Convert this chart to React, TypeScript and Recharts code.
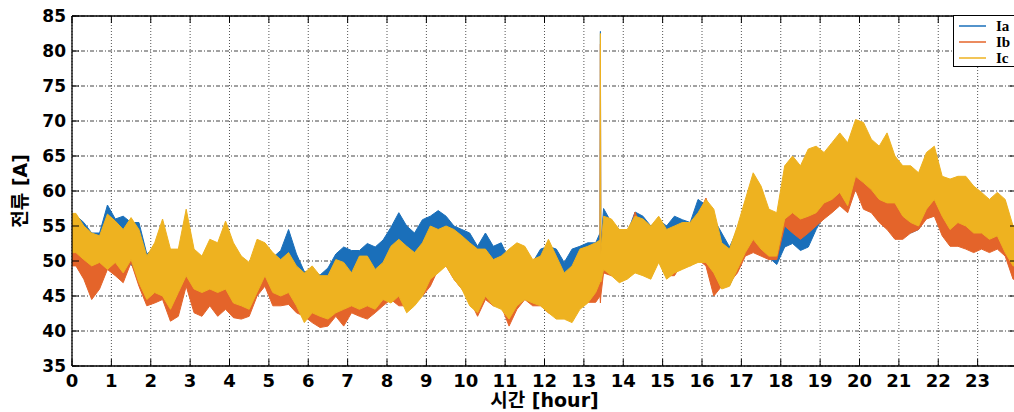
import { ComposedChart, Area, XAxis, YAxis, CartesianGrid, Legend, ReferenceLine } from 'recharts'

// three-phase current, envelope (trough / peak) per 0.2 h bin
const BIN_HOURS = 0.2

const iaHigh = [
  56.5, 55.5, 54, 54, 58, 56, 56.4, 55.5, 55.5, 51,
  52, 54.5, 51, 51.5, 55, 51, 50.5, 52.5, 52, 55,
  52, 50.5, 49.5, 52, 52, 50.5, 51.5, 54.5, 51, 48.5,
  48.5, 48, 49, 51, 52, 51.5, 51.5, 52.5, 52, 53,
  54.8, 56.9, 55, 54, 55.9, 56.4, 57.2, 56.4, 55, 54.5,
  54, 52.1, 54, 52.1, 52.6, 50.2, 50.2, 51.7, 49.8, 51.7,
  52.1, 51.7, 49.8, 51.7, 52.1, 52.6, 52.6, 57.5, 55.5, 54.5,
  54, 57, 56.4, 55, 55.9, 55, 56.4, 55.9, 55.5, 58.8,
  58, 56, 54, 52, 54.5, 57.5, 61.5, 59.5, 57, 56,
  62, 63.5, 62.5, 64.5, 65, 64, 65.5, 66.5, 65.5, 68.5,
  68, 66, 65, 66.5, 63.5, 62, 62, 61.5, 64.5, 65,
  61, 60.5, 61.5, 61.5, 60.5, 58.5, 58, 59.5, 58.5, 54,
]
const iaLow = [
  51, 49.5, 48.5, 49, 49.5, 50, 49, 49.5, 48, 46,
  46, 45.5, 44, 45.5, 47.5, 46, 45, 46, 45.5, 46,
  44.5, 44, 44, 45.5, 47.5, 46, 46, 47, 45, 43,
  44, 43, 43, 44, 45, 45.5, 45, 46, 46, 46.5,
  45.5, 46.5, 44.5, 45.5, 46.5, 48.5, 49.5, 50.5, 48.5, 47,
  44.5, 43.5, 46, 44.5, 44, 43, 44.5, 45.5, 45, 44.5,
  43.5, 43, 43, 42.5, 44, 45, 46, 49, 48.5, 47.5,
  48, 49, 48.5, 48, 50, 48, 49, 49.5, 50, 50.5,
  50, 48.5, 46.5, 46.5, 49, 51.5, 52.5, 51, 50.5, 49.5,
  52, 52.5, 51.5, 52, 54.5, 56.5, 57.5, 58.5, 57.5, 60.5,
  58.5, 57.5, 56, 56.5, 56, 54.5, 54, 54.5, 56.5, 57,
  54.5, 53, 53.5, 53.5, 52.5, 52.5, 52, 52.5, 51, 48,
]

const ibHigh = [
  54, 52.5, 51, 51, 54, 53, 51.5, 53.5, 51.5, 48.5,
  50, 53, 49, 49, 53.5, 49, 48.5, 51, 49.5, 52.5,
  50, 48, 47.5, 50.5, 50.5, 48.5, 48, 49, 47, 46,
  47, 45.5, 45.5, 48, 47, 46.5, 48, 48.5, 47, 48,
  49, 51, 50, 49, 50.5, 52.5, 52, 54, 52, 51.5,
  50.5, 49.5, 50, 48.5, 48.5, 49.5, 50.5, 50.5, 48.5, 49,
  51, 49, 47, 47.5, 50, 51, 51.5, 54, 55.5, 53,
  53, 57, 54, 53.5, 55, 53, 53.5, 54, 54, 56.5,
  59, 55.5, 50.5, 49.5, 52.5, 56, 59.5, 58, 55, 54.5,
  60, 61.5, 60.5, 62, 62, 62, 63, 64.5, 63, 66,
  65.5, 63.5, 62.5, 63.5, 61, 60, 59.5, 59, 62, 62.5,
  58.5, 58, 58.5, 58, 57, 56.5, 56, 56.5, 55.5, 52,
]
const ibLow = [
  49.3, 47.4, 44.5, 46, 48.8, 47.9, 46.9, 49.8, 46.4, 43.6,
  44, 44.5, 41.4, 42.1, 46.4, 42.6, 42.1, 43.6, 42.1, 43.1,
  41.9, 41.7, 42.1, 45, 46.4, 43.6, 43.6, 43.8, 42.6, 42.1,
  41.2, 40.5, 40.7, 42.1, 40.7, 42.6, 42.1, 41.7, 42.6, 43.6,
  44.5, 43.6, 43.6, 45.5, 45, 46.4, 48.8, 49.3, 47.4, 46,
  44.5, 42.1, 44.5, 43.6, 43.6, 40.7, 43.1, 44.5, 43.6, 43.6,
  42.6, 42.1, 42.1, 42.1, 43.6, 44.1, 44.1, 48.3, 47.9, 47.9,
  48.8, 48.8, 48.8, 49.3, 50.2, 47.9, 47.9, 49.8, 49.3, 50.2,
  49.3, 45, 46.4, 46.9, 48.3, 50.7, 51.2, 50.7, 50.2, 50.2,
  55, 54, 53.1, 54, 55, 56, 56.9, 57.9, 56.9, 60.2,
  57.4, 56.9, 55.5, 54.5, 53.1, 53.1, 54, 54.5, 56, 56.4,
  53.6, 52.1, 52.1, 51.7, 51.2, 51.7, 51.2, 51.7, 50.7, 47.4,
]

const icHigh = [
  56.8, 55, 54, 53.6, 56.7, 55.7, 54.5, 56.2, 54.5, 50.7,
  52.6, 56, 51.7, 51.7, 57.4, 51.7, 50.7, 53.1, 52.6, 55.7,
  52.6, 50.7, 49.8, 53.1, 52.6, 51.2, 50.2, 51.2, 49.3, 48.3,
  49.3, 47.9, 47.9, 50.2, 49.8, 48.3, 50.7, 50.7, 48.8, 49.8,
  52.1, 53.1, 52.1, 51.2, 52.6, 55, 54.5, 55, 54.5, 53.6,
  52.6, 51.7, 51.7, 50.2, 50.7, 51.7, 52.6, 52.1, 50.2, 50.7,
  53.1, 50.7, 48.3, 49.3, 51.7, 52.1, 52.6, 56.4, 56, 54.5,
  54.5, 56.4, 56, 55, 56.4, 54.5, 55, 55.5, 55.5, 56.9,
  58.8, 57.4, 52.6, 51.7, 55, 58.8, 62.6, 60.7, 57.4, 56.9,
  63.6, 65, 63.6, 66, 66.4, 65.5, 66.9, 68.3, 66.9, 70.2,
  69.8, 67.4, 66.4, 68.3, 65, 63.6, 63.6, 62.6, 65.5, 66.4,
  62.1, 61.7, 62.1, 62.1, 60.7, 59.8, 58.8, 59.8, 58.8, 55,
]
const icLow = [
  51.2, 50.2, 49.3, 49.8, 48.8, 49.8, 48.3, 50.2, 46.9, 44.5,
  45.5, 45, 43.1, 45.5, 47.9, 46, 45.5, 46, 45.5, 46,
  44, 43.6, 43.1, 45.5, 47.9, 45.5, 45, 45.5, 43.6, 41.2,
  42.6, 42.1, 41.7, 42.6, 43.1, 43.6, 43.1, 43.6, 43.1, 44.5,
  44, 45, 42.6, 43.6, 45, 47.4, 48.3, 49.3, 47.4, 46,
  43.6, 42.6, 45, 43.6, 43.1, 41.7, 43.6, 44.5, 44, 43.6,
  42.6, 41.7, 41.7, 41.2, 43.1, 44, 45.5, 48.8, 47.9, 46.9,
  47.4, 48.3, 47.9, 47.4, 49.8, 47.4, 48.3, 48.8, 49.3, 49.8,
  49.8, 48.3, 46, 46.4, 48.8, 51.2, 53.1, 51.7, 50.7, 50.7,
  56, 56.9, 56, 56.4, 56.9, 58.3, 58.8, 59.8, 57.9, 62.1,
  61.2, 60.2, 58.8, 58.3, 58.3, 56.4, 55.5, 55, 57.4, 58.8,
  56.4, 54.5, 55.5, 55, 54, 54, 53.1, 53.6, 51.2, 49.3,
]

// short inrush event a little after 13:25 (three samples: rise, peak, fall)
const spikeHours = [13.41, 13.42, 13.43]
const iaSpikeHigh = [54, 82.8, 52]
const iaSpikeLow = [48, 49, 48]
const ibSpikeHigh = [52, 81, 50]
const ibSpikeLow = [45, 44, 45]
const icSpikeHigh = [53, 82.5, 51]
const icSpikeLow = [47, 48, 47]

const hourTicks = [0, 1, 2, 3, 4, 5, 6, 7, 8, 9, 10, 11, 12, 13, 14, 15, 16, 17, 18, 19, 20, 21, 22, 23]
const ampTicks = [35, 40, 45, 50, 55, 60, 65, 70, 75, 80, 85]

type Row = { t: number; ia: [number, number]; ib: [number, number]; ic: [number, number] }

const binRow = (t: number, k: number): Row => ({
  t,
  ia: [iaLow[k], iaHigh[k]],
  ib: [ibLow[k], ibHigh[k]],
  ic: [icLow[k], icHigh[k]],
})

const lastBin = icHigh.length - 1
const rows: Row[] = [binRow(0, 0)]
icHigh.forEach((_, k) => {
  rows.push(binRow(Math.round((k * BIN_HOURS + BIN_HOURS / 2) * 100) / 100, k))
})
rows.push(binRow(lastBin * BIN_HOURS + BIN_HOURS, lastBin))
spikeHours.forEach((t, i) => {
  rows.push({
    t,
    ia: [iaSpikeLow[i], iaSpikeHigh[i]],
    ib: [ibSpikeLow[i], ibSpikeHigh[i]],
    ic: [icSpikeLow[i], icSpikeHigh[i]],
  })
})
rows.sort((a, b) => a.t - b.t)

const COLORS = { ia: '#1a6fba', ib: '#e4642a', ic: '#eeb220' }

// plot box (matlab style: box on, ticks pointing inward on all four sides)
const PLOT_LEFT = 72
const PLOT_TOP = 16
const PLOT_W = 945
const PLOT_H = 350
const TICK_LEN = 7
const TICK_FONT = '"DejaVu Sans", "Liberation Sans", Arial, sans-serif'
const LABEL_FONT = '"DejaVu Sans", "Noto Sans CJK KR", sans-serif'

function YTick(props: any) {
  const { x, y, payload } = props
  return (
    <g>
      <line x1={PLOT_LEFT} x2={PLOT_LEFT + TICK_LEN} y1={y} y2={y} stroke="#000" />
      <line x1={PLOT_LEFT + PLOT_W - TICK_LEN} x2={PLOT_LEFT + PLOT_W} y1={y} y2={y} stroke="#000" />
      <text x={x} y={y} dy="0.36em" textAnchor="end" fontFamily={TICK_FONT} fontWeight="bold" fontSize={17} fill="#000">
        {payload.value}
      </text>
    </g>
  )
}

function XTick(props: any) {
  const { x, y, payload } = props
  const bottom = PLOT_TOP + PLOT_H
  return (
    <g>
      <line x1={x} x2={x} y1={bottom} y2={bottom - TICK_LEN} stroke="#000" />
      <line x1={x} x2={x} y1={PLOT_TOP} y2={PLOT_TOP + TICK_LEN} stroke="#000" />
      <text x={x} y={y} dy="0.71em" textAnchor="middle" fontFamily={TICK_FONT} fontWeight="bold" fontSize={18} fill="#000">
        {payload.value}
      </text>
    </g>
  )
}

const SERIES = [
  { key: 'ia', name: 'Ia' },
  { key: 'ib', name: 'Ib' },
  { key: 'ic', name: 'Ic' },
] as const

function LegendBox() {
  return (
    <div
      style={{
        boxSizing: 'border-box',
        width: 80,
        height: 52,
        border: '1px solid #000',
        background: '#fff',
        paddingTop: 2,
      }}
    >
      {SERIES.map((s) => (
        <div key={s.key} style={{ display: 'flex', alignItems: 'center', height: 16 }}>
          <svg width={36} height={16}>
            <line x1={5} x2={32} y1={8} y2={8} stroke={COLORS[s.key]} strokeWidth={1.5} />
          </svg>
          <span
            style={{
              marginLeft: 6,
              fontFamily: '"Liberation Serif", "Times New Roman", serif',
              fontWeight: 'bold',
              fontSize: 15,
              lineHeight: '16px',
            }}
          >
            {s.name}
          </span>
        </div>
      ))}
    </div>
  )
}

export default function App() {
  return (
    <div
      style={{
        position: 'fixed',
        left: 0,
        top: 0,
        width: 1014,
        height: 412,
        overflow: 'hidden',
        background: '#fff',
      }}
    >
      <ComposedChart
        width={PLOT_LEFT + PLOT_W + 13}
        height={412}
        data={rows}
        margin={{ top: PLOT_TOP, right: 13, bottom: 0, left: 0 }}
      >
        <CartesianGrid horizontal vertical={false} stroke="#444" strokeDasharray="4 2 1 2" />
        <CartesianGrid horizontal={false} vertical stroke="#555" strokeDasharray="1 2" />
        <XAxis
          type="number"
          dataKey="t"
          domain={[0, 24]}
          ticks={hourTicks}
          interval={0}
          height={412 - PLOT_TOP - PLOT_H}
          tickSize={0}
          tickMargin={8}
          tick={<XTick />}
          axisLine={{ stroke: '#000', strokeWidth: 1.3 }}
          label={{
            value: '시간 [hour]',
            position: 'insideBottom',
            offset: 5,
            style: { fontFamily: LABEL_FONT, fontWeight: 'bold', fontSize: 19, fill: '#000' },
          }}
        />
        <YAxis
          type="number"
          domain={[35, 85]}
          ticks={ampTicks}
          interval={0}
          width={PLOT_LEFT}
          tickSize={0}
          tickMargin={6}
          tick={<YTick />}
          axisLine={{ stroke: '#000', strokeWidth: 1.3 }}
          label={{
            value: '전류 [A]',
            angle: -90,
            position: 'insideLeft',
            offset: 20,
            style: { textAnchor: 'middle', fontFamily: LABEL_FONT, fontWeight: 'bold', fontSize: 19, fill: '#000' },
          }}
        />
        <ReferenceLine y={85} stroke="#000" strokeWidth={1.3} />
        <ReferenceLine x={24} stroke="#000" strokeWidth={1.3} />
        {SERIES.map((s) => (
          <Area
            key={s.key}
            name={s.name}
            dataKey={s.key}
            type="linear"
            stroke={COLORS[s.key]}
            strokeWidth={1}
            fill={COLORS[s.key]}
            fillOpacity={1}
            dot={false}
            activeDot={false}
            isAnimationActive={false}
          />
        ))}
        <Legend
          layout="vertical"
          align="center"
          verticalAlign="middle"
          wrapperStyle={{ left: 953, top: 15, width: 80, height: 52 }}
          content={<LegendBox />}
        />
      </ComposedChart>
    </div>
  )
}
